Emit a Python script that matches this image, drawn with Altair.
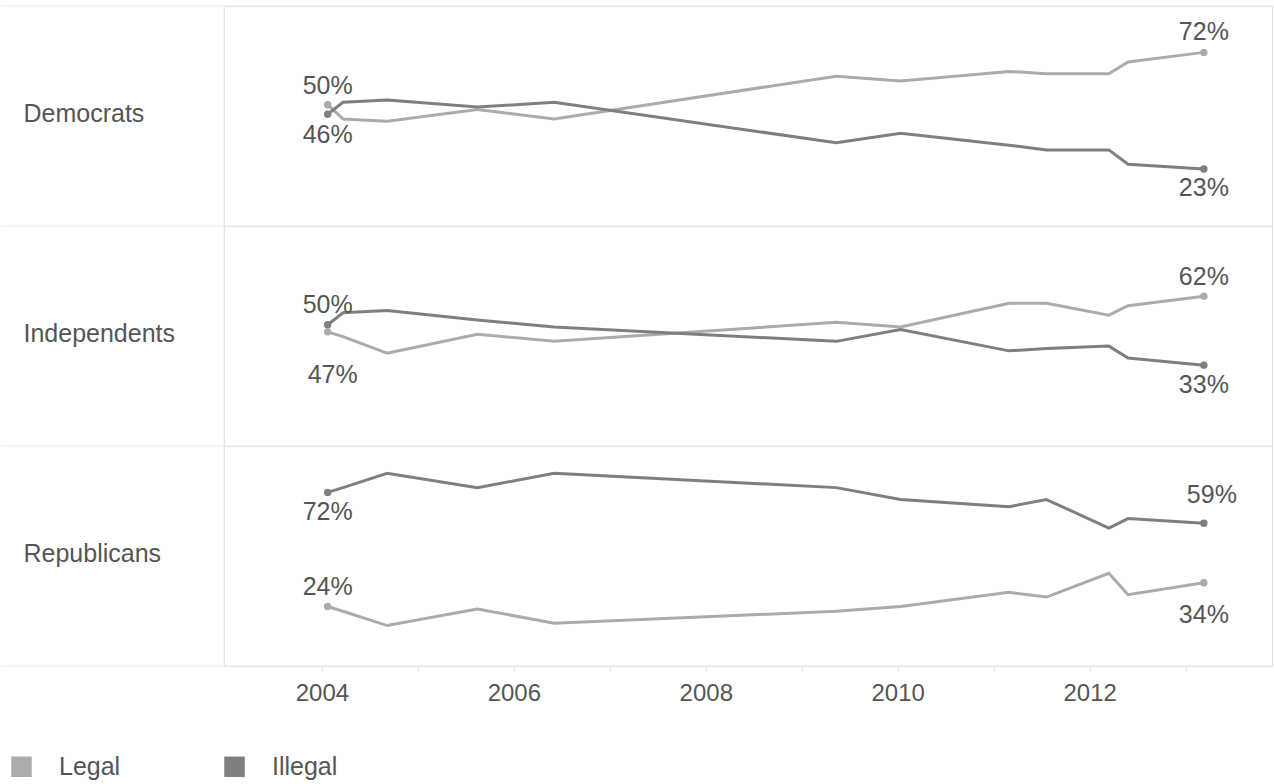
import altair as alt
import pandas as pd

# ---------------- data ----------------
dates = [2004.06, 2004.22, 2004.68, 2005.62, 2006.42, 2009.36, 2010.03,
         2011.16, 2011.55, 2012.20, 2012.40, 2013.19]
parties = ["Democrats", "Independents", "Republicans"]
series = ["Legal", "Illegal"]

dem_legal = [50, 44, 43, 48, 44, 62, 60, 64, 63, 63, 68, 72]
dem_illegal = [46, 51, 52, 49, 51, 34, 38, 33, 31, 31, 25, 23]
ind_legal = [47, 45, 38, 46, 43, 51, 49, 59, 59, 54, 58, 62]
ind_illegal = [50, 55, 56, 52, 49, 43, 48, 39, 40, 41, 36, 33]
rep_legal = [24, 22, 16, 23, 17, 22, 24, 30, 28, 38, 29, 34]
rep_illegal = [72, 74, 80, 74, 80, 74, 69, 66, 69, 57, 61, 59]

tick_years = list(range(2004, 2014))

values_by_party = {
    "Democrats": (dem_legal, dem_illegal),
    "Independents": (ind_legal, ind_illegal),
    "Republicans": (rep_legal, rep_illegal),
}

records = []
for party in parties:
    for s, vals in zip(series, values_by_party[party]):
        for d, v in zip(dates, vals):
            records.append({"party": party, "series": s, "date": d, "value": v})
df = pd.DataFrame(records)

# ---------------- styling ----------------
FONT = "Liberation Sans"
TEXT = "#555555"
GRID = "#ebebeb"
LEGAL_C = "#ababab"
ILLEGAL_C = "#7f7f7f"
W, H = 1048, 220
LEFT = 223

# annotation placement: (party, series, end index, dx, dy)
annotations = [
    ("Democrats", "Legal", 0, 0, -19),
    ("Democrats", "Illegal", 0, 0, 21),
    ("Democrats", "Legal", -1, 0, -20),
    ("Democrats", "Illegal", -1, 0, 19),
    ("Independents", "Illegal", 0, 0, -20),
    ("Independents", "Legal", 0, 5, 43),
    ("Independents", "Legal", -1, 0, -19),
    ("Independents", "Illegal", -1, 0, 20),
    ("Republicans", "Illegal", 0, 0, 20),
    ("Republicans", "Legal", 0, 0, -20),
    ("Republicans", "Illegal", -1, 8, -28),
    ("Republicans", "Legal", -1, 0, 32),
]

xscale = alt.Scale(domain=[2002.98, 2013.9], nice=False, zero=False)
yscale = alt.Scale(domain=[-1, 91.5], nice=False, zero=False)
color = alt.Color(
    "series:N",
    scale=alt.Scale(domain=series, range=[LEGAL_C, ILLEGAL_C]),
    legend=alt.Legend(
        title=None, orient="none", legendX=-215, legendY=748,
        direction="horizontal", symbolType="square", symbolSize=420,
        symbolStrokeWidth=0, labelFontSize=25,
        labelColor=TEXT, labelFont=FONT, labelOffset=25, columnPadding=101,
    ),
)

dummy = pd.DataFrame({"k": [0]})


def make_row(i, party):
    d = df[df["party"] == party]
    if i == len(parties) - 1:
        xaxis = alt.Axis(
            values=tick_years, title=None, grid=False, domain=False,
            ticks=True, tickSize=5, tickColor="#dddddd",
            labelExpr="datum.value % 2 == 0 ? format(datum.value, 'd') : ''",
            labelFontSize=24, labelColor=TEXT, labelFont=FONT,
            labelPadding=10,
        )
    else:
        xaxis = None
    x = alt.X("date:Q", scale=xscale, axis=xaxis, title=None)
    y = alt.Y(
        "value:Q", scale=yscale,
        axis=alt.Axis(
            title=party, titleAngle=0, titleAlign="left", titleBaseline="middle",
            titleX=-201, titleY=H / 2 - 3, titleFontSize=25, titleFontWeight="normal",
            titleColor=TEXT, titleFont=FONT, labels=False, ticks=False,
            domain=False, grid=False,
        ),
    )

    top_rule = alt.Chart(dummy).mark_rule(color=GRID, strokeWidth=1).encode(
        x=alt.value(-LEFT), x2=alt.value(W), y=alt.value(0))
    left_rule = alt.Chart(dummy).mark_rule(color=GRID, strokeWidth=1).encode(
        x=alt.value(0), y=alt.value(0), y2=alt.value(H))
    layers = [top_rule, left_rule]
    if i == len(parties) - 1:
        bottom_rule = alt.Chart(dummy).mark_rule(color=GRID, strokeWidth=1).encode(
            x=alt.value(-LEFT), x2=alt.value(W), y=alt.value(H))
        layers.append(bottom_rule)

    base = alt.Chart(d)
    lines = base.mark_line(strokeWidth=3).encode(x=x, y=y, color=color)
    points = base.transform_filter(
        alt.FieldOneOfPredicate(field="date", oneOf=[dates[0], dates[-1]])
    ).mark_circle(size=55, opacity=1).encode(x=x, y=y, color=color)
    layers += [lines, points]

    for (p, s, end, dx, dy) in annotations:
        if p != party:
            continue
        sub = d[(d["series"] == s) & (d["date"] == dates[end])]
        txt = alt.Chart(sub).transform_calculate(
            label="datum.value + '%'"
        ).mark_text(
            dx=dx, dy=dy, fontSize=25, font=FONT, color=TEXT,
            align="center", baseline="middle",
        ).encode(x=x, y=y, text="label:N")
        layers.append(txt)

    return alt.layer(*layers).properties(width=W, height=H)


rows = [make_row(i, p) for i, p in enumerate(parties)]

chart = alt.vconcat(*rows, spacing=0, bounds="flush").properties(
    padding={"left": 0, "top": 5, "right": 0, "bottom": 0}
).configure_view(stroke=None).configure(font=FONT)

chart.save("out.html", embed_options={"renderer": "svg", "actions": False})
